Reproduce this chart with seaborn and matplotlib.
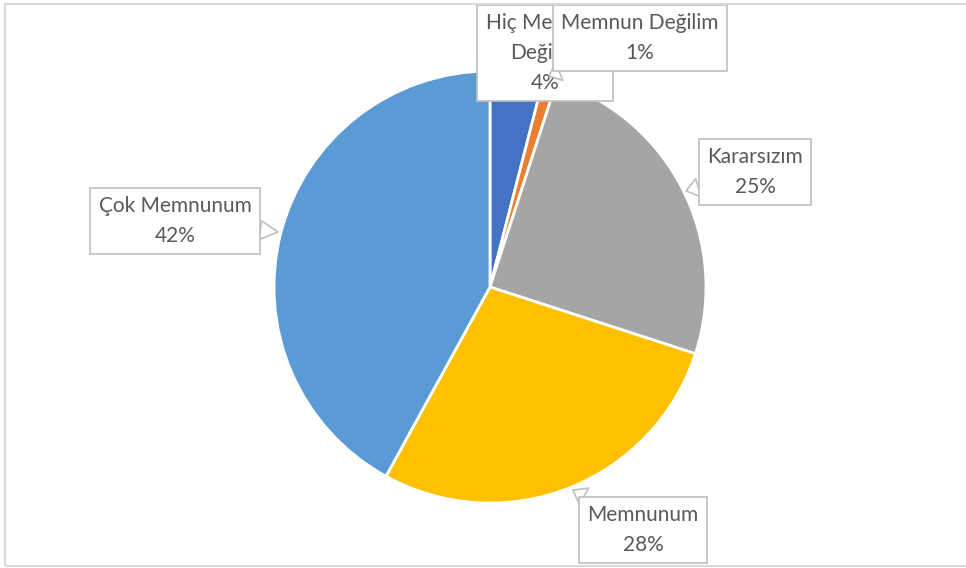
import matplotlib.pyplot as plt
import matplotlib.patches as mpatches
import seaborn as sns

labels = ["Hiç Memnun\nDeğilim", "Memnun Değilim", "Kararsızım", "Memnunum", "Çok Memnunum"]
values = [4, 1, 25, 28, 42]
colors = ["#4472C4", "#ED7D31", "#A5A5A5", "#FFC000", "#5B9BD5"]

W, H = 966, 568

sns.set_theme(style="white")
plt.rcParams["font.family"] = ["Lato", "DejaVu Sans"]


def px(x, y):
    # image pixel coords -> data coords (y up)
    return (x, H - y)


fig = plt.figure(figsize=(W / 100, H / 100), dpi=100)
ax = fig.add_axes([0, 0, 1, 1])

ax.pie(values, colors=colors, startangle=90, counterclock=False,
       center=px(490, 287), radius=216,
       wedgeprops=dict(edgecolor="white", linewidth=2))
ax.set_xlim(0, W)
ax.set_ylim(0, H)
ax.set_aspect("equal")
ax.axis("off")

# callout positions: (box centre, pointer target)
callouts = [
    ((545, 53), None),
    ((640, 38), (549, 76)),
    ((755, 172), (686, 191)),
    ((643, 530), (573, 490)),
    ((175, 221), (278, 232)),
]

for i, (lab, val) in enumerate(zip(labels, values)):
    (bx, by), tgt = callouts[i]
    txt = f"{lab}\n{val}%"
    box = dict(boxstyle="square,pad=0.4", fc="white", ec="#BFBFBF", lw=1.2)
    if tgt is None:
        ax.text(*px(bx, by), txt, ha="center", va="center", fontsize=15,
                color="#595959", linespacing=1.6, bbox=box, zorder=5 + i)
    else:
        ax.annotate(txt, xy=px(*tgt), xytext=px(bx, by), ha="center", va="center",
                    fontsize=15, color="#595959", linespacing=1.6, bbox=box,
                    zorder=5 + i,
                    arrowprops=dict(arrowstyle="wedge,tail_width=0.9,shrink_factor=0.5",
                                    fc="white", ec="#BFBFBF", lw=1.2,
                                    shrinkA=0, shrinkB=0))

frame = mpatches.Rectangle((5, 2), W + 10, H - 6, transform=None, fill=False,
                           ec="#D9D9D9", lw=1.5)
fig.patches.append(frame)

fig.savefig("out.png", dpi=100)
